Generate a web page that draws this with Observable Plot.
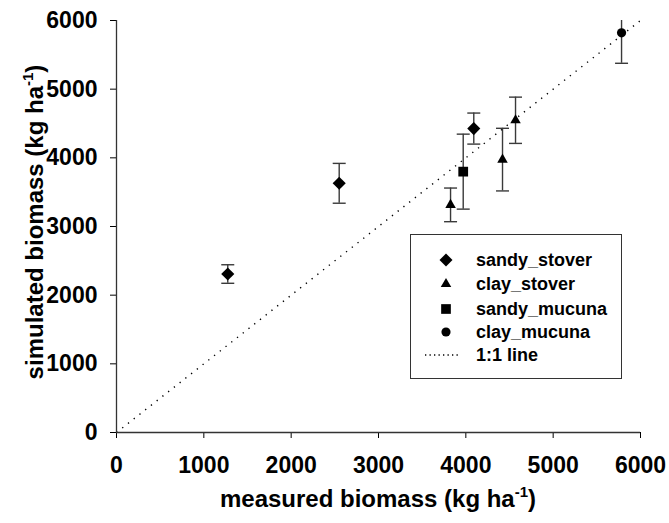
<!DOCTYPE html>
<html>
<head>
<meta charset="utf-8">
<script src="https://cdn.jsdelivr.net/npm/d3@7"></script>
<script src="https://cdn.jsdelivr.net/npm/@observablehq/plot@0.6"></script>
<style>
  html, body { margin: 0; padding: 0; background: #fff; }
  #wrap { position: relative; width: 669px; height: 523px; font-family: "Liberation Sans", Arial, sans-serif; font-weight: bold; }
  #legend { position: absolute; left: 410px; top: 234px; width: 210px; height: 143px; border: 1px solid #333; background: #fff; box-sizing: content-box; }
  .lrow { position: absolute; left: 0; height: 22px; line-height: 22px; font-size: 18px; color: #000; }
  .lrow svg { position: absolute; left: 14px; top: 0; }
  .lrow span { position: absolute; left: 65px; white-space: nowrap; }
</style>
</head>
<body>
<div id="wrap"></div>
<script>
// ---- data ----
const seriesNames = ["sandy_stover", "clay_stover", "sandy_mucuna", "clay_mucuna"];
const sandyStoverX = [1274, 2550, 4091];
const sandyStoverY = [2308, 3629, 4426];
const sandyStoverErr = [135, 290, 226];
const clayStoverX = [3825, 4420, 4569];
const clayStoverY = [3315, 3974, 4547];
const clayStoverErr = [245, 456, 337];
const sandyMucunaX = [3970];
const sandyMucunaY = [3799];
const sandyMucunaErr = [546];
const clayMucunaX = [5783];
const clayMucunaY = [5820];
const clayMucunaErr = [443];
const xTicks = [0, 1000, 2000, 3000, 4000, 5000, 6000];
const yTicks = [0, 1000, 2000, 3000, 4000, 5000, 6000];
const oneToOne = [0, 6000];

function rows(name, xs, ys, es) {
  return xs.map((x, i) => ({series: name, x, y: ys[i], lo: ys[i] - es[i], hi: ys[i] + es[i]}));
}
const sandyStover = rows(seriesNames[0], sandyStoverX, sandyStoverY, sandyStoverErr);
const clayStover = rows(seriesNames[1], clayStoverX, clayStoverY, clayStoverErr);
const sandyMucuna = rows(seriesNames[2], sandyMucunaX, sandyMucunaY, sandyMucunaErr);
const clayMucuna = rows(seriesNames[3], clayMucunaX, clayMucunaY, clayMucunaErr);
const all = [...sandyStover, ...clayStover, ...sandyMucuna, ...clayMucuna];
const lineData = oneToOne.map(v => ({x: v, y: v}));

const capSymbol = { draw(ctx) { ctx.moveTo(-6.5, 0); ctx.lineTo(6.5, 0); } };
const errColor = "#3a3a3a";

const chart = Plot.plot({
  width: 669,
  height: 523,
  marginLeft: 116,
  marginRight: 29,
  marginTop: 20,
  marginBottom: 91,
  style: { fontFamily: "'Liberation Sans', Arial, sans-serif", fontWeight: "bold", fontSize: "23px", color: "#000", background: "#fff", overflow: "visible" },
  x: { domain: [0, 6000], ticks: xTicks, tickSize: 6, tickPadding: 18, tickFormat: d => String(d), label: null },
  y: { domain: [0, 6000], ticks: yTicks, tickSize: 6, tickPadding: 13, tickFormat: d => String(d), label: null },
  marks: [
    Plot.line(lineData, { x: "x", y: "y", stroke: "#000", strokeWidth: 1.4, strokeDasharray: "1.3,6", strokeLinecap: "butt" }),
    Plot.ruleX(all, { x: "x", y1: "lo", y2: "hi", stroke: errColor, strokeWidth: 1.4, clip: true }),
    Plot.dot(all, { x: "x", y: "hi", symbol: capSymbol, fill: "none", stroke: errColor, strokeWidth: 1.4, clip: true }),
    Plot.dot(all, { x: "x", y: "lo", symbol: capSymbol, fill: "none", stroke: errColor, strokeWidth: 1.4, clip: true }),
    Plot.dot(sandyStover, { x: "x", y: "y", symbol: "diamond2", r: 5.9, fill: "#000", stroke: "none" }),
    Plot.dot(clayStover, { x: "x", y: "y", symbol: "triangle", r: 3.9, fill: "#000", stroke: "none" }),
    Plot.dot(sandyMucuna, { x: "x", y: "y", symbol: "square", r: 5.5, fill: "#000", stroke: "none" }),
    Plot.dot(clayMucuna, { x: "x", y: "y", symbol: "circle", r: 4.6, fill: "#000", stroke: "none" }),
    Plot.ruleX([0], { stroke: "#333", strokeWidth: 1.3 }),
    Plot.ruleY([0], { stroke: "#333", strokeWidth: 1.3 })
  ]
});

const svg = d3.select(chart);
// axis titles with superscript
const xt = svg.append("text")
  .attr("x", 378).attr("y", 507)
  .attr("text-anchor", "middle")
  .attr("font-size", 24).attr("font-weight", "bold").attr("fill", "#000");
xt.append("tspan").text("measured biomass (kg ha");
xt.append("tspan").attr("font-size", 15).attr("dy", -10).text("-1");
xt.append("tspan").attr("dy", 10).text(")");

const yt = svg.append("text")
  .attr("transform", "translate(43,222) rotate(-90)")
  .attr("text-anchor", "middle")
  .attr("font-size", 24).attr("font-weight", "bold").attr("fill", "#000");
yt.append("tspan").text("simulated biomass (kg ha");
yt.append("tspan").attr("font-size", 15).attr("dy", -10).text("-1");
yt.append("tspan").attr("dy", 10).text(")");

const wrap = document.getElementById("wrap");
wrap.appendChild(chart);

// legend
const legend = document.createElement("div");
legend.id = "legend";
wrap.appendChild(legend);
const legendItems = [
  { label: seriesNames[0], symbol: d3.symbolDiamond2, size: 108 },
  { label: seriesNames[1], symbol: d3.symbolTriangle, size: 48 },
  { label: seriesNames[2], symbol: d3.symbolSquare, size: 94 },
  { label: seriesNames[3], symbol: d3.symbolCircle, size: 66 },
  { label: "1:1 line", line: true }
];
const rowTops = [14, 38, 63, 86, 109];
legendItems.forEach((it, i) => {
  const row = document.createElement("div");
  row.className = "lrow";
  row.style.top = rowTops[i] + "px";
  row.style.width = "210px";
  const s = d3.create("svg").attr("width", 50).attr("height", 22);
  if (it.line) {
    s.append("line").attr("x1", 0).attr("x2", 36).attr("y1", 11).attr("y2", 11)
      .attr("stroke", "#000").attr("stroke-width", 1.3).attr("stroke-dasharray", "1.3,3.2");
  } else {
    s.append("path").attr("transform", "translate(21,11)")
      .attr("d", d3.symbol(it.symbol, it.size)()).attr("fill", "#000");
  }
  row.appendChild(s.node());
  const t = document.createElement("span");
  t.textContent = it.label;
  row.appendChild(t);
  legend.appendChild(row);
});
</script>
</body>
</html>
